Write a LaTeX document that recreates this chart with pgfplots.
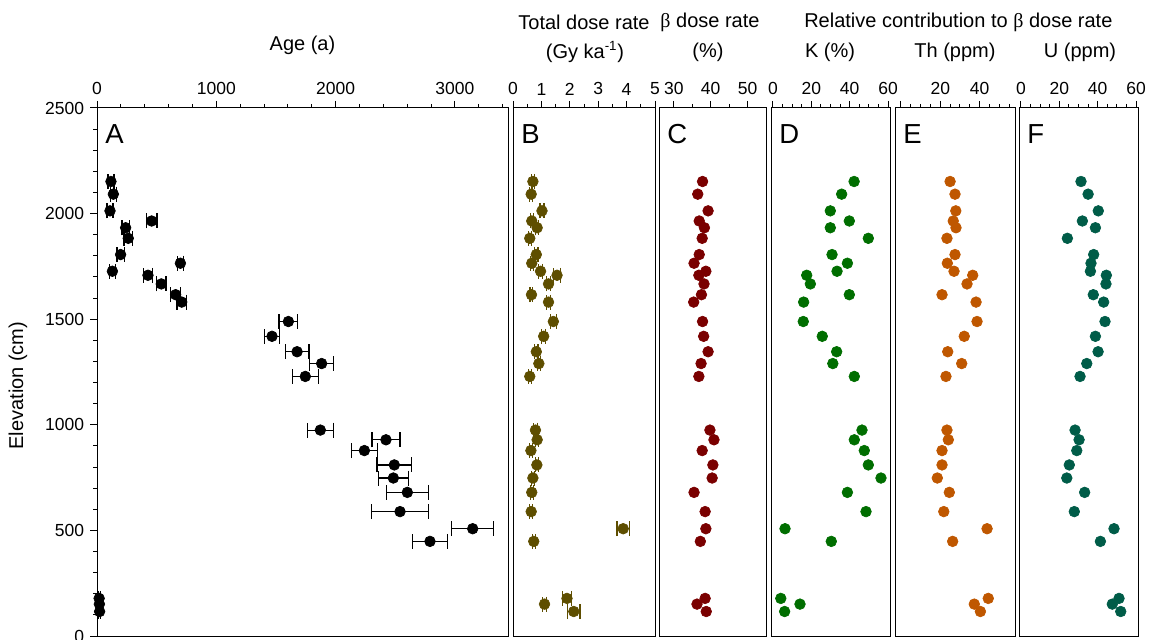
\documentclass[border=0pt]{standalone}
\usepackage{fontspec}
\setmainfont{Liberation Sans}
\newfontfamily\symb{Liberation Serif}
\usepackage{pgfplots}
\usepackage{pgfplotstable}
\pgfplotsset{compat=1.18}

\definecolor{doseol}{RGB}{94,78,0}
\definecolor{betared}{RGB}{122,0,0}
\definecolor{kgreen}{RGB}{0,110,0}
\definecolor{thorange}{RGB}{191,87,0}
\definecolor{uteal}{RGB}{0,92,72}

% elevation (cm), age (a) with error, total dose rate (Gy/ka) with error,
% beta share of dose rate (%), relative contributions of K, Th, U to beta dose rate (%)
\pgfplotstableread{
elev age  aerr dose derr beta K    Th   U
2152 117  25   0.70 0.05 37.8 42.3 25.0 31.3
2092 137  25   0.64 0.05 36.5 35.8 27.5 35.0
2013 109  25   1.02 0.07 39.3 29.9 27.9 40.3
1965 458  45   0.66 0.05 36.9 39.8 26.6 32.0
1933 240  30   0.85 0.06 38.3 29.9 28.0 38.8
1883 262  35   0.59 0.05 37.7 49.7 23.4 24.2
1806 198  30   0.82 0.06 36.9 30.8 27.5 37.9
1765 699  25   0.66 0.05 35.5 38.8 23.6 36.5
1727 129  25   0.97 0.06 38.7 33.4 27.0 36.2
1708 427  40   1.55 0.12 36.8 17.6 36.5 44.5
1667 539  40   1.25 0.08 38.2 19.5 33.6 44.3
1616 659  40   0.65 0.05 37.5 39.8 20.9 37.7
1581 710  40   1.25 0.08 35.4 16.0 38.2 43.1
1489 1604 78   1.42 0.10 37.8 15.8 38.7 43.8
1419 1467 60   1.08 0.07 38.1 25.7 32.2 38.8
1346 1677 100  0.82 0.06 39.3 33.2 23.8 40.2
1290 1883 100  0.91 0.06 37.4 31.2 30.9 34.3
1229 1746 108  0.59 0.05 36.8 42.4 22.9 30.8
975  1872 110  0.79 0.06 39.8 46.4 23.4 28.2
929  2422 117  0.85 0.06 40.9 42.4 24.1 30.3
878  2241 107  0.63 0.05 37.7 47.6 20.9 29.1
810  2492 145  0.84 0.06 40.6 49.7 20.9 25.2
748  2484 128  0.70 0.05 40.4 56.3 18.5 23.9
680  2601 177  0.66 0.05 35.5 38.8 24.6 33.2
589  2540 237  0.64 0.05 38.5 48.5 21.8 27.8
508  3149 177  3.88 0.22 38.7 6.3  43.8 48.5
448  2791 147  0.73 0.05 37.2 30.4 26.3 41.4
178  18   10   1.90 0.17 38.5 4.1  44.4 51.1
151  20   10   1.11 0.08 36.3 14.1 37.3 47.6
116  22   10   2.14 0.22 38.8 6.1  40.4 52.0
}\profile

\pgfplotsset{
  panel/.style={
    scale only axis, anchor=south west, height=316.8pt,
    ymin=0, ymax=2500, clip=false,
    axis line style={line width=0.6pt},
    every tick/.style={line width=0.6pt, black},
    tick align=outside,
    major tick length=4.2pt, minor tick length=2.4pt,
    xtick pos=right, xticklabel pos=right,
    ytick=\empty,
    tick label style={font=\fontsize{10.5}{12}\selectfont},
    /pgf/number format/assume math mode=true,
    /pgf/number format/1000 sep={},
    scaled x ticks=false, scaled y ticks=false,
  },
  dots/.style={only marks, mark=*, mark size=3.2pt},
}
\tikzset{letter/.style={anchor=north west, inner sep=0pt, font=\fontsize{16.5}{18}\selectfont}}

\begin{document}
\begin{tikzpicture}
\pgfresetboundingbox
\path[use as bounding box] (0pt,0pt) rectangle (689.4pt,383.4pt);

% A: age
\begin{axis}[panel, at={(58.2pt,1.8pt)}, width=246.6pt,
  xmin=0, xmax=3445,
  xtick={0,1000,2000,3000}, minor xtick={200,400,...,3400},
  ytick={0,500,...,2500}, minor ytick={100,200,...,2400}, ytick pos=left]
\addplot[dots, black,
  error bars/.cd, x dir=both, x explicit,
  error bar style={line width=0.7pt, black},
  error mark=|, error mark options={mark size=4.5pt, line width=0.7pt, black}]
  table[x=age, y=elev, x error=aerr] {\profile};
\node[letter] at (rel axis cs:0,1) [xshift=4.8pt, yshift=-9.6pt] {A};
\end{axis}

% B: total dose rate
\begin{axis}[panel, at={(307.8pt,1.8pt)}, width=85.2pt,
  xmin=0, xmax=5,
  xtick={0,1,2,3,4,5}, minor xtick={0.5,1.5,...,4.5}]
\addplot[dots, doseol,
  error bars/.cd, x dir=both, x explicit,
  error bar style={line width=0.7pt, doseol},
  error mark=|, error mark options={mark size=4.5pt, line width=0.7pt, doseol}]
  table[x=dose, y=elev, x error=derr] {\profile};
\node[letter] at (rel axis cs:0,1) [xshift=4.8pt, yshift=-9.6pt] {B};
\end{axis}

% C: beta dose rate share
\begin{axis}[panel, at={(395.4pt,1.8pt)}, width=64.2pt,
  xmin=26, xmax=55,
  xtick={30,40,50}, minor xtick={35,45}]
\addplot[dots, betared] table[x=beta, y=elev] {\profile};
\node[letter] at (rel axis cs:0,1) [xshift=4.8pt, yshift=-9.6pt] {C};
\end{axis}

% D: K contribution
\begin{axis}[panel, at={(462.6pt,1.8pt)}, width=71.4pt,
  xmin=-1, xmax=61,
  xtick={0,20,40,60}, minor xtick={5,10,15,25,30,35,45,50,55}]
\addplot[dots, kgreen] table[x=K, y=elev] {\profile};
\node[letter] at (rel axis cs:0,1) [xshift=4.8pt, yshift=-9.6pt] {D};
\end{axis}

% E: Th contribution
\begin{axis}[panel, at={(537pt,1.8pt)}, width=72pt,
  xmin=-3, xmax=58,
  xtick={0,20,40}, xticklabels={{},20,40}, minor xtick={5,10,15,25,30,35,45,50,55}]
\addplot[dots, thorange] table[x=Th, y=elev] {\profile};
\node[letter] at (rel axis cs:0,1) [xshift=4.8pt, yshift=-9.6pt] {E};
\end{axis}

% F: U contribution
\begin{axis}[panel, at={(611.4pt,1.8pt)}, width=71.4pt,
  xmin=-1, xmax=61,
  xtick={0,20,40,60}, minor xtick={5,10,15,25,30,35,45,50,55}]
\addplot[dots, uteal] table[x=U, y=elev] {\profile};
\node[letter] at (rel axis cs:0,1) [xshift=4.8pt, yshift=-9.6pt] {F};
\end{axis}

% headers and axis titles
\begin{scope}[every node/.style={font=\fontsize{12}{14}\selectfont, inner sep=0pt}]
\node at (181.5pt,356.4pt) {Age (a)};
\node at (350.4pt,370.2pt) {Total dose rate};
\node at (426pt,370.2pt) {{\symb β} dose rate};
\node at (575pt,370.2pt) {Relative contribution to {\symb β} dose rate};
\node at (351pt,352.2pt) {(Gy ka\textsuperscript{-1})};
\node at (424.8pt,352.2pt) {(\%)};
\node at (498pt,352.2pt) {K (\%)};
\node at (573pt,352.2pt) {Th (ppm)};
\node at (648pt,352.2pt) {U (ppm)};
\node[rotate=90] at (10.8pt,152pt) {Elevation (cm)};
\end{scope}
\end{tikzpicture}
\end{document}
